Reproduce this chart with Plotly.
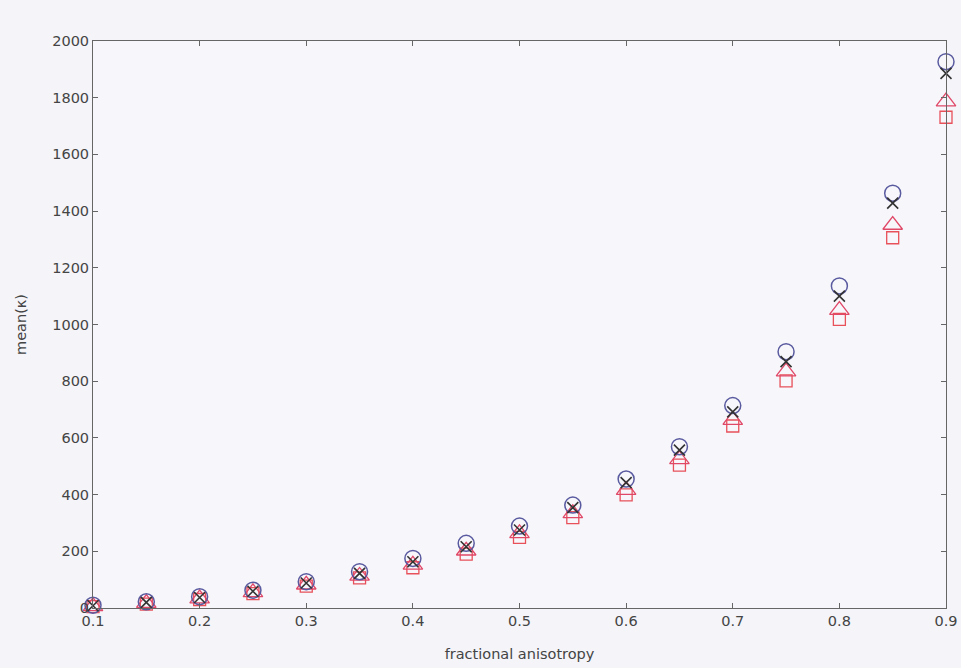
import plotly.graph_objects as go

fa = [0.1, 0.15, 0.2, 0.25, 0.3, 0.35, 0.4, 0.45, 0.5, 0.55, 0.6, 0.65, 0.7, 0.75, 0.8, 0.85, 0.9]
circ = [10, 22, 40, 63, 93, 128, 175, 228, 289, 363, 455, 569, 714, 904, 1136, 1463, 1927]
cross = [8, 20, 37, 59, 88, 122, 163, 216, 275, 354, 442, 557, 692, 869, 1100, 1428, 1886]
tri = [6, 17, 33, 55, 82, 113, 152, 202, 263, 334, 416, 524, 663, 834, 1051, 1351, 1786]
sq = [5, 14, 30, 51, 77, 106, 142, 190, 249, 319, 399, 504, 642, 801, 1018, 1306, 1731]

xticks = [0.1, 0.2, 0.3, 0.4, 0.5, 0.6, 0.7, 0.8, 0.9]
yticks = list(range(0, 2001, 200))

FONT = "DejaVu Sans, Liberation Sans, Arial"

fig = go.Figure()
fig.add_trace(go.Scatter(x=fa, y=sq, mode="markers", cliponaxis=False,
                         marker=dict(symbol="square-open", size=12, color="#e8505a", line=dict(width=1.3))))
fig.add_trace(go.Scatter(x=fa, y=tri, mode="markers", cliponaxis=False,
                         marker=dict(symbol="triangle-up-open", size=17, color="#e04868", line=dict(width=1.3))))
fig.add_trace(go.Scatter(x=fa, y=circ, mode="markers", cliponaxis=False,
                         marker=dict(symbol="circle-open", size=16, color="#5a5aa0", line=dict(width=1.5))))
fig.add_trace(go.Scatter(x=fa, y=cross, mode="markers", cliponaxis=False,
                         marker=dict(symbol="x-thin-open", size=11, color="#333333", line=dict(width=1.6, color="#333333"))))

axis_common = dict(showgrid=False, zeroline=False, showline=True, linecolor="#666666", linewidth=1,
                   mirror="ticks", ticks="inside", ticklen=5, tickcolor="#666666", automargin=False,
                   tickfont=dict(family=FONT, size=14.5, color="#444444"))

fig.update_layout(
    width=961, height=668,
    margin=dict(l=93, r=15, t=41, b=60),
    paper_bgcolor="#f4f4f9", plot_bgcolor="#f7f7fb",
    showlegend=False,
    xaxis=dict(range=[0.1, 0.9], tickvals=xticks, ticktext=[f"{v:.1f}" for v in xticks],
               title=dict(text="fractional anisotropy", font=dict(family=FONT, size=14.5, color="#444444"), standoff=20),
               **axis_common),
    yaxis=dict(range=[0, 2000], tickvals=yticks, ticktext=[str(v) for v in yticks],
               title=dict(text="mean(κ)", font=dict(family=FONT, size=14.5, color="#444444"), standoff=22),
               **axis_common),
)

fig.write_html("out.html")
